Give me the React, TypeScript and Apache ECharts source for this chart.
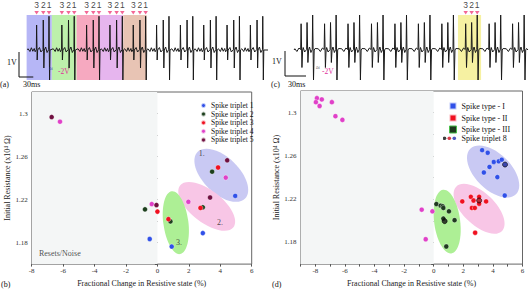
import React, { useEffect, useRef } from "react";
import * as echarts from "echarts";

// ---------------- waveform (a) ----------------
const tripletOnsetsA = [16, 69, 121, 170, 219, 268, 318, 367, 416, 465];
const spikeOffsetsA = [21, 35, 47];
const spikeUpA = [1.0, 1.2, 1.35];
const spikeDownA = [-0.4, -0.72, -1.2];
const wiggleA: [number, number][] = [[3, 0.05], [7, -0.06], [10, 0.09], [13, -0.05], [16, 0.06], [18, -0.07], [27, 0.1], [30, -0.08], [40, 0.12], [43, -0.1]];
const traceRangeA = [18, 523];
const bandTripletsA = [0, 1, 2, 3, 4];
const bandEndsA = [69, 121, 170, 219, 268];

// ---------------- waveform (c) ----------------
const tripletOnsetsC = [12, 45.5, 79, 112.5, 146, 179.5, 213, 247, 280.5, 314];
const spikeOffsetsC = [11, 19.5, 27.5];
const spikeUpC = [1.05, 1.1, 1.4];
const spikeDownC = [-0.7, -0.5, -1.2];
const wiggleC: [number, number][] = [[2, 0.05], [5, -0.06], [8, 0.08], [14, 0.1], [16, -0.08], [23, 0.12], [25, -0.1], [31, 0.06]];
const traceRangeC = [13, 347];
const bandTripletsC = [7];
const bandEndsC = [280];

const spikeLabels = ["3", "2", "1"];
const markerLevel = 1.49;

// ---------------- scatter (b) ----------------
const tripletNamesB = ["Spike triplet 1", "Spike triplet 2", "Spike triplet 3", "Spike triplet 4", "Spike triplet 5"];
const triplet1 = [[4.95, 1.2234], [2.89, 1.1888], [-0.49, 1.1833], [0.91, 1.1763]];
const triplet2 = [[-0.79, 1.2109], [3.48, 1.2459], [2.89, 1.2128], [0.83, 1.1997]];
const triplet3 = [[3.86, 1.2498], [2.74, 1.2122], [0.0, 1.2088], [0.7, 1.2018]];
const triplet4 = [[4.35, 1.2404], [1.97, 1.2179], [-0.36, 1.2158], [-6.2, 1.2924]];
const triplet5 = [[4.44, 1.2565], [3.35, 1.2219], [-0.06, 1.2149], [-6.73, 1.2967]];
const ellipsesB = [
  [2.55, 1.2641, 5.58, 1.221],
  [1.44, 1.2331, 4.84, 1.1942],
  [0.91, 1.2277, 1.44, 1.1693],
];
const annotationsB = [
  { name: "1.", value: [2.82, 1.2626] },
  { name: "2.", value: [3.98, 1.1988] },
  { name: "3.", value: [1.37, 1.1803] },
  { name: "Resets/Noise", value: [-7.54, 1.1699] },
];

// ---------------- scatter (d) ----------------
const typeNamesD = ["Spike type - I", "Spike type - II", "Spike type - III"];
const typeI = [[3.27, 1.2653], [3.65, 1.2629], [4.06, 1.2544], [4.39, 1.255], [4.6, 1.2565], [3.77, 1.2498], [3.39, 1.2447], [4.3, 1.2404], [4.8, 1.2234]];
const typeII = [[1.93, 1.2179], [2.51, 1.2222], [2.69, 1.2188], [3.07, 1.2222], [3.54, 1.2179], [2.58, 1.2119], [2.78, 1.2119], [3.07, 1.2158], [2.8, 1.189]];
const typeIII = [[0.18, 1.2155], [0.47, 1.214], [0.61, 1.2134], [0.65, 1.2119], [1.03, 1.2088], [0.65, 1.2021], [1.41, 1.2006], [0.85, 1.1763]];
const noiseD = [[-7.89, 1.3134], [-7.56, 1.3122], [-7.96, 1.3097], [-6.88, 1.3097], [-7.71, 1.3061], [-6.64, 1.2967], [-6.17, 1.2933], [-0.81, 1.2103], [-0.09, 1.2088], [-0.54, 1.183]];
const triplet8 = [[0.74, 1.1997], [3.07, 1.2188], [4.82, 1.252]];
const tripletName8 = "Spike triplet 8";
const ellipsesD = [
  [2.47, 1.2666, 5.56, 1.2246],
  [1.52, 1.2316, 4.62, 1.1906],
  [0.63, 1.2286, 1.19, 1.1699],
];

// ---------------- styles ----------------
const SERIF = "Liberation Serif";
const bandColorsA = ["#b6b6f6", "#bdf0ab", "#f6a9c0", "#e6b5ee", "#e8c4b4"];
const bandColorsC = ["#f6f1a2"];
const ellipseColors = ["#c9c9f3", "#f8c6e6", "#adef95"];
const ellipseWidthsB = [18, 16, 12.5];
const ellipseWidthsD = [18, 16, 13];
const tripletColorsB = ["#3050e8", "#1c3f1c", "#f01020", "#e040c8", "#701040"];
const typeColorsD = ["#3050e8", "#f01020", "#1f3a1f"];
const triplet8Colors = ["#111111", "#a01018", "#18259a"];

function buildTrace(onsets: number[], offsets: number[], ups: number[], downs: number[], wiggle: [number, number][], range: number[]) {
  const pts: number[][] = [[range[0], 0]];
  onsets.forEach((T) => {
    wiggle.forEach(([dt, v]) => pts.push([T + dt, v]));
    offsets.forEach((dt, i) => {
      pts.push([T + dt - 0.6, 0.02]);
      pts.push([T + dt, ups[i]]);
      pts.push([T + dt + 1.2, downs[i]]);
      pts.push([T + dt + 2.2, 0]);
    });
  });
  pts.push([range[1], 0]);
  return pts.filter((p) => p[0] >= range[0] && p[0] <= range[1]).sort((a, b) => a[0] - b[0]);
}

function buildMarkers(onsets: number[], offsets: number[], which: number[]) {
  const out: any[] = [];
  which.forEach((k) => offsets.forEach((dt, i) => out.push({ name: spikeLabels[i], value: [onsets[k] + dt, markerLevel] })));
  return out;
}

function buildBands(onsets: number[], which: number[], ends: number[], colors: string[], top: number) {
  return which.map((k, i) => [
    { xAxis: onsets[k], yAxis: -1.2, itemStyle: { color: colors[i] } },
    { xAxis: ends[i], yAxis: top },
  ]);
}

function ellipseSeries(gi: number, ends: number[][], widths: number[]) {
  return {
    type: "custom",
    xAxisIndex: gi,
    yAxisIndex: gi,
    z: 1,
    silent: true,
    data: ends,
    encode: { x: [0, 2], y: [1, 3] },
    renderItem: (params: any, api: any) => {
      const p1 = api.coord([api.value(0), api.value(1)]);
      const p2 = api.coord([api.value(2), api.value(3)]);
      const dx = p2[0] - p1[0];
      const dy = p2[1] - p1[1];
      return {
        type: "ellipse",
        x: (p1[0] + p2[0]) / 2,
        y: (p1[1] + p2[1]) / 2,
        rotation: -Math.atan2(dy, dx),
        shape: { cx: 0, cy: 0, rx: Math.hypot(dx, dy) / 2, ry: widths[params.dataIndex] },
        style: { fill: ellipseColors[params.dataIndex] },
      };
    },
  };
}

function scatterAxes(gi: number, xmin: number, xmax: number, xInt: number, nameGapY: number) {
  const x = {
    gridIndex: gi,
    type: "value",
    min: xmin,
    max: xmax,
    interval: xInt,
    axisLine: { show: false },
    axisTick: { show: true, length: 2.5, lineStyle: { color: "#555" } },
    splitLine: { show: false },
    axisLabel: {
      fontSize: 7,
      margin: 3,
      color: "#333",
      fontFamily: SERIF,
      formatter: (v: number) => (Math.abs(v / 2 - Math.round(v / 2)) < 1e-6 ? String(v) : ""),
    },
    name: "Fractional Change in Resistive state (%)",
    nameLocation: "middle",
    nameGap: 14.5,
    nameTextStyle: { fontSize: 8, color: "#222", fontFamily: SERIF },
  };
  const y = {
    gridIndex: gi,
    type: "value",
    min: 1.16,
    max: 1.32,
    interval: 0.02,
    axisLine: { show: false },
    axisTick: { show: true, length: 2.5, lineStyle: { color: "#555" } },
    splitLine: { show: false },
    axisLabel: {
      fontSize: 7,
      margin: 4,
      color: "#333",
      fontFamily: SERIF,
      formatter: (v: number) => {
        const r = (v - 1.18) / 0.04;
        return Math.abs(r - Math.round(r)) < 1e-6 ? String(+v.toFixed(2)) : "";
      },
    },
    name: "Initial Resistance (x10\u2074 \u03A9)",
    nameLocation: "middle",
    nameRotate: 90,
    nameGap: nameGapY,
    nameTextStyle: { fontSize: 8, color: "#222", fontFamily: SERIF },
  };
  return { x, y };
}

function pointSeries(name: string, gi: number, data: any[], color: string) {
  return {
    type: "scatter",
    name,
    xAxisIndex: gi,
    yAxisIndex: gi,
    z: 3,
    symbolSize: 5,
    data,
    itemStyle: { color, borderColor: "rgba(255,255,255,0.7)", borderWidth: 0.5, opacity: 1 },
  };
}

const dots8Svg =
  '<svg xmlns="http://www.w3.org/2000/svg" width="14" height="4" viewBox="0 0 14 4"><circle cx="2" cy="2" r="1.8" fill="#111"/><circle cx="6.8" cy="2" r="1.8" fill="#d01020"/><circle cx="11.8" cy="2" r="1.8" fill="#2030b0"/></svg>';
const dots8Icon = "image://data:image/svg+xml;charset=utf-8," + encodeURIComponent(dots8Svg);

export default function App() {
  const ref = useRef<HTMLDivElement>(null);
  useEffect(() => {
    if (!ref.current) return;
    const chart = echarts.init(ref.current, undefined, { renderer: "svg" });
    const traceA = buildTrace(tripletOnsetsA, spikeOffsetsA, spikeUpA, spikeDownA, wiggleA, traceRangeA);
    const traceC = buildTrace(tripletOnsetsC, spikeOffsetsC, spikeUpC, spikeDownC, wiggleC, traceRangeC);
    const axB = scatterAxes(2, -8, 6, 2, 19);
    const axD = scatterAxes(3, -9, 6, 1, 20.5);

    const markerSeries = (gi: number, data: any[]) => ({
      type: "scatter",
      xAxisIndex: gi,
      yAxisIndex: gi,
      z: 4,
      symbol: "triangle",
      symbolRotate: 180,
      symbolSize: [4.5, 3.5],
      itemStyle: { color: "#f0407a" },
      data,
      label: {
        show: true,
        position: "top",
        distance: 1.5,
        formatter: "{b}",
        fontSize: 8.5,
        fontFamily: "Liberation Sans",
        color: "#111",
      },
    });

    const textEl = (text: string, x: number, y: number, fill = "#111", size = 8, align = "left") => ({
      type: "text",
      x,
      y,
      z: 100,
      style: { text, fill, font: `${size}px ${SERIF}`, align, verticalAlign: "middle" },
    });

    const option: any = {
      animation: false,
      backgroundColor: "#fff",
      textStyle: { fontFamily: SERIF },
      grid: [
        { left: 19, top: 0, width: 249, height: 80 },
        { left: 285, top: 0, width: 243, height: 80 },
        { left: 31.7, top: 92, width: 220, height: 173, show: true, borderColor: "#666", borderWidth: 1 },
        { left: 300.5, top: 91, width: 222, height: 174, show: true, borderColor: "#666", borderWidth: 1 },
      ],
      xAxis: [
        { gridIndex: 0, type: "value", min: 0, max: 523, show: false },
        { gridIndex: 1, type: "value", min: 0, max: 347, show: false },
        axB.x,
        axD.x,
      ],
      yAxis: [
        { gridIndex: 0, type: "value", min: -1.2, max: 2.0, show: false },
        { gridIndex: 1, type: "value", min: -1.2, max: 2.0, show: false },
        axB.y,
        axD.y,
      ],
      visualMap: [
        {
          type: "piecewise",
          show: false,
          seriesIndex: 1,
          dimension: 0,
          pieces: [
            { lt: 16, color: "#1a1a1a" },
            { gte: 16, lt: 69, color: "#2430c0" },
            { gte: 69, lt: 170, color: "#1a1a1a" },
            { gte: 170, lt: 219, color: "#7a2a8a" },
            { gte: 219, color: "#1a1a1a" },
          ],
        },
      ],
      legend: [
        {
          orient: "vertical",
          left: 195,
          top: 96.5,
          itemWidth: 5,
          itemHeight: 5,
          itemGap: 0.6,
          icon: "circle",
          data: tripletNamesB,
          textStyle: { fontFamily: SERIF, fontSize: 7.5, color: "#111", lineHeight: 8 },
        },
        {
          orient: "vertical",
          left: 443.5,
          top: 96.5,
          itemWidth: 7,
          itemHeight: 7,
          itemGap: 3,
          icon: "rect",
          data: [
            { name: typeNamesD[0] },
            { name: typeNamesD[1] },
            { name: typeNamesD[2], itemStyle: { color: typeColorsD[2], borderColor: "#4cbf4c", borderWidth: 1 } },
          ],
          textStyle: { fontFamily: SERIF, fontSize: 8, color: "#111", lineHeight: 8 },
        },
        {
          orient: "vertical",
          left: 437.5,
          top: 129.3,
          itemWidth: 14,
          itemHeight: 4,
          data: [{ name: tripletName8, icon: dots8Icon }],
          textStyle: { fontFamily: SERIF, fontSize: 8, color: "#111", lineHeight: 8 },
        },
      ],
      series: [
        {
          type: "line",
          xAxisIndex: 0,
          yAxisIndex: 0,
          z: 1,
          showSymbol: false,
          silent: true,
          data: [[0, -0.08], [0, -1.08], [30, -1.08]],
          lineStyle: { color: "#111", width: 1 },
          markArea: { silent: true, data: buildBands(tripletOnsetsA, bandTripletsA, bandEndsA, bandColorsA, 1.4) },
        },
        {
          type: "line",
          xAxisIndex: 0,
          yAxisIndex: 0,
          z: 3,
          showSymbol: false,
          silent: true,
          data: traceA,
          lineStyle: { color: "#1a1a1a", width: 1 },
        },
        markerSeries(0, buildMarkers(tripletOnsetsA, spikeOffsetsA, bandTripletsA)),
        {
          type: "line",
          xAxisIndex: 1,
          yAxisIndex: 1,
          z: 1,
          showSymbol: false,
          silent: true,
          data: [[0, -0.04], [0, -1.04], [30, -1.04]],
          lineStyle: { color: "#111", width: 1 },
          markArea: { silent: true, data: buildBands(tripletOnsetsC, bandTripletsC, bandEndsC, bandColorsC, 1.4) },
        },
        {
          type: "line",
          xAxisIndex: 1,
          yAxisIndex: 1,
          z: 3,
          showSymbol: false,
          silent: true,
          data: traceC,
          lineStyle: { color: "#1a1a1a", width: 1 },
        },
        markerSeries(1, buildMarkers(tripletOnsetsC, spikeOffsetsC, bandTripletsC)),
        {
          type: "line",
          xAxisIndex: 2,
          yAxisIndex: 2,
          z: 0,
          data: [],
          markArea: { silent: true, itemStyle: { color: "#f4f6f6" }, data: [[{ xAxis: -8, yAxis: 1.16 }, { xAxis: 0, yAxis: 1.32 }]] },
        },
        ellipseSeries(2, ellipsesB, ellipseWidthsB),
        pointSeries(tripletNamesB[0], 2, triplet1, tripletColorsB[0]),
        pointSeries(tripletNamesB[1], 2, triplet2, tripletColorsB[1]),
        pointSeries(tripletNamesB[2], 2, triplet3, tripletColorsB[2]),
        pointSeries(tripletNamesB[3], 2, triplet4, tripletColorsB[3]),
        pointSeries(tripletNamesB[4], 2, triplet5, tripletColorsB[4]),
        {
          type: "scatter",
          xAxisIndex: 2,
          yAxisIndex: 2,
          z: 4,
          symbolSize: 1,
          silent: true,
          itemStyle: { color: "rgba(0,0,0,0)" },
          data: annotationsB.map((a, i) => ({
            ...a,
            label: i === 3 ? { align: "left" } : {},
          })),
          label: { show: true, position: "inside", formatter: "{b}", fontSize: 8, color: "#222", fontFamily: SERIF },
        },
        {
          type: "line",
          xAxisIndex: 3,
          yAxisIndex: 3,
          z: 0,
          data: [],
          markArea: { silent: true, itemStyle: { color: "#f4f6f6" }, data: [[{ xAxis: -9, yAxis: 1.16 }, { xAxis: 0, yAxis: 1.32 }]] },
        },
        ellipseSeries(3, ellipsesD, ellipseWidthsD),
        pointSeries(typeNamesD[0], 3, typeI, typeColorsD[0]),
        pointSeries(typeNamesD[1], 3, typeII, typeColorsD[1]),
        pointSeries(typeNamesD[2], 3, typeIII, typeColorsD[2]),
        pointSeries("noise", 3, noiseD, "#e040c8"),
        {
          type: "scatter",
          name: tripletName8,
          xAxisIndex: 3,
          yAxisIndex: 3,
          z: 5,
          symbolSize: 5,
          data: triplet8.map((p, i) => ({ value: p, itemStyle: { color: triplet8Colors[i] } })),
          itemStyle: { color: "#111", borderColor: "#000", borderWidth: 0.8 },
        },
      ],
      graphic: [
        textEl("(a)", 0, 84),
        textEl("30ms", 23, 84),
        textEl("1V", 7, 62),
        textEl("-2V", 58, 71, "#e0309a", 7.5),
        textEl("\u2248", 49, 69, "#2233aa", 7),
        textEl("(c)", 271, 84),
        textEl("30ms", 288, 84),
        textEl("1V", 272, 61),
        textEl("-2V", 322, 71, "#e0309a", 7.5),
        textEl("\u2248", 316, 68, "#333", 7),
        textEl("(b)", 1, 284),
        textEl("(d)", 272, 284),
      ],
    };
    chart.setOption(option);
    return () => chart.dispose();
  }, []);
  return <div ref={ref} style={{ position: "fixed", left: 0, top: 0, width: 529, height: 292 }} />;
}
